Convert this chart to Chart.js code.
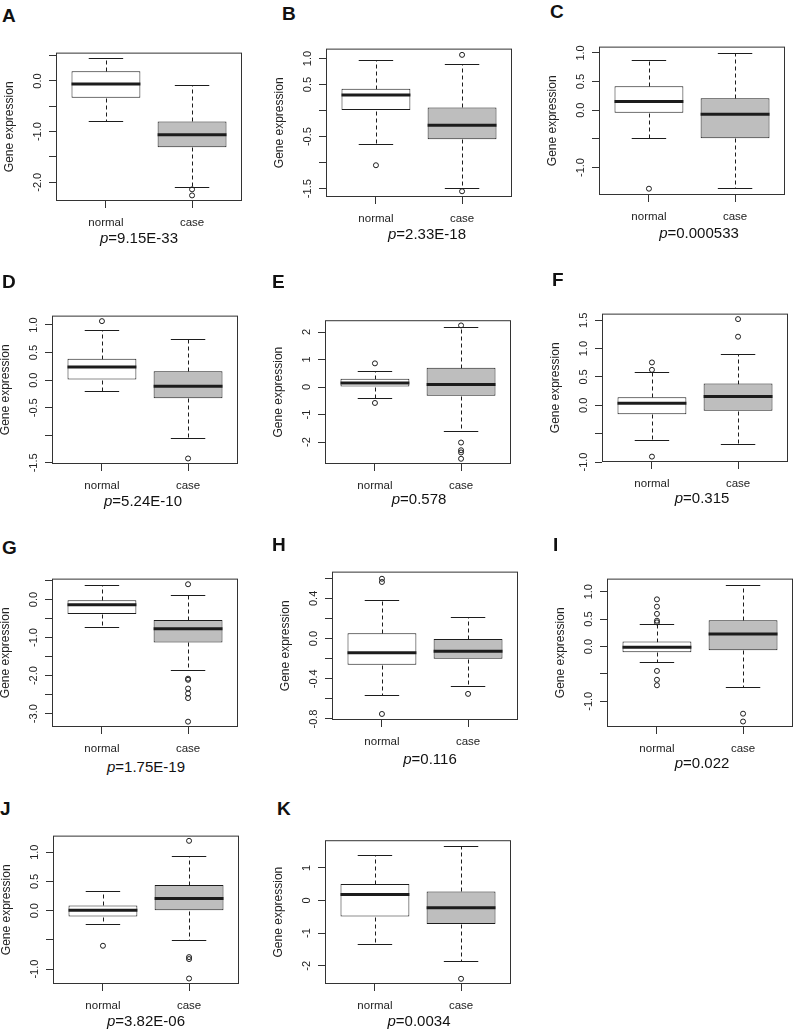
<!DOCTYPE html>
<html>
<head>
<meta charset="utf-8">
<script src="https://cdn.jsdelivr.net/npm/chart.js@4.4.0/dist/chart.umd.min.js"></script>
<style>
  html, body { margin: 0; padding: 0; background: #fff; }
  #page { position: relative; width: 795px; height: 1029px; overflow: hidden; font-family: "Liberation Sans", Arial, sans-serif; color: #111; }
  .panel { position: absolute; }
  .letter { position: absolute; font-weight: bold; font-size: 19px; line-height: 1; }
  .pval { position: absolute; font-size: 15px; line-height: 1; transform: translate(-50%, -50%); white-space: nowrap; }
</style>
</head>
<body>
<div id="page"></div>
<script>
const groups = ["normal", "case"];
const panelLetters = ["A", "B", "C", "D", "E", "F", "G", "H", "I", "J", "K"];
const pValues = ["9.15E-33", "2.33E-18", "0.000533", "5.24E-10", "0.578", "0.315",
  "1.75E-19", "0.116", "0.022", "3.82E-06", "0.0034"];

// [lower whisker, Q1, median, Q3, upper whisker]
const normalStats = [
  [-0.79, -0.33, -0.06, 0.19, 0.45],
  [-0.65, 0.0, 0.30, 0.42, 0.98],
  [-0.49, -0.045, 0.15, 0.42, 0.87],
  [-0.20, 0.01, 0.24, 0.39, 0.91],
  [-0.40, 0.0, 0.15, 0.30, 0.58],
  [-0.62, -0.16, 0.034, 0.143, 0.58],
  [-0.71, -0.38, -0.14, -0.017, 0.39],
  [-0.56, -0.26, -0.14, 0.054, 0.38],
  [-0.28, -0.107, -0.012, 0.09, 0.405],
  [-0.228, -0.1, 0.006, 0.089, 0.344],
  [-1.32, -0.49, 0.183, 0.51, 1.40]
];
const caseStats = [
  [-2.10, -1.31, -1.06, -0.80, -0.08],
  [-1.48, -0.55, -0.28, 0.06, 0.90],
  [-1.36, -0.49, -0.07, 0.21, 1.0],
  [-1.05, -0.33, -0.11, 0.16, 0.75],
  [-1.59, -0.32, 0.09, 0.70, 2.17],
  [-0.68, -0.097, 0.155, 0.384, 0.905],
  [-1.86, -1.13, -0.77, -0.54, 0.12],
  [-0.47, -0.20, -0.125, 0.0, 0.214],
  [-0.744, -0.07, 0.226, 0.48, 1.13],
  [-0.506, 0.0, 0.206, 0.44, 0.94],
  [-1.85, -0.72, -0.22, 0.28, 1.68]
];
const normalOutliers = [
  [], [-1.05], [-1.37], [1.07], [0.86, -0.58], [0.756, 0.625, -0.905],
  [], [0.595, 0.563, -0.75], [0.86, 0.726, 0.595, 0.47, 0.44, -0.446, -0.607, -0.708],
  [-0.6], []
];
const caseOutliers = [
  [-2.14, -2.26], [1.07, -1.55], [], [-1.42], [2.24, -2.02, -2.30, -2.38, -2.61],
  [1.52, 1.21], [0.40, -2.08, -2.11, -2.34, -2.47, -2.59, -3.21], [-0.55],
  [-1.226, -1.369], [1.194, -0.794, -0.828, -1.16], [-2.40]
];
const yLimits = [
  [-2.37, 0.56], [-1.66, 1.19], [-1.48, 1.11], [-1.52, 1.17], [-2.8, 2.43], [-1.0, 1.617],
  [-3.35, 0.548], [-0.81, 0.666], [-1.469, 1.238], [-1.254, 1.283], [-2.56, 1.85]
];
const yTicks = [
  [-2, -1.5, -1, -0.5, 0, 0.5],
  [-1.5, -1, -0.5, 0, 0.5, 1],
  [-1, -0.5, 0, 0.5, 1],
  [-1.5, -1, -0.5, 0, 0.5, 1],
  [-2, -1, 0, 1, 2],
  [-1, -0.5, 0, 0.5, 1, 1.5],
  [-3, -2.5, -2, -1.5, -1, -0.5, 0, 0.5],
  [-0.8, -0.6, -0.4, -0.2, 0, 0.2, 0.4, 0.6],
  [-1, -0.5, 0, 0.5, 1],
  [-1, -0.5, 0, 0.5, 1],
  [-2, -1, 0, 1]
];
const yTickLabels = [
  ["-2.0", "", "-1.0", "", "0.0", ""],
  ["-1.5", "", "-0.5", "", "0.5", "1.0"],
  ["-1.0", "", "0.0", "0.5", "1.0"],
  ["-1.5", "", "-0.5", "0.0", "0.5", "1.0"],
  ["-2", "-1", "0", "1", "2"],
  ["-1.0", "", "0.0", "0.5", "1.0", "1.5"],
  ["-3.0", "", "-2.0", "", "-1.0", "", "0.0", ""],
  ["-0.8", "", "-0.4", "", "0.0", "", "0.4", ""],
  ["-1.0", "", "0.0", "0.5", "1.0"],
  ["-1.0", "", "0.0", "0.5", "1.0"],
  ["-2", "-1", "0", "1"]
];

// layout: plot box top-left, p-value centre, letter corner
const boxPos = [[56, 48], [326, 44], [599, 42], [52, 311], [325, 311], [602, 309],
  [52, 574], [332, 567], [607, 574], [53, 831], [325, 831]];
const pPos = [[139, 237], [427, 233], [699, 232], [143, 500], [419, 498], [702, 497],
  [146, 766], [430, 758], [702, 762], [146, 1020], [419, 1020]];
const letterPos = [[2, 6], [282, 4], [550, 2], [2, 272], [272, 272], [552, 270],
  [2, 538], [272, 535], [553, 535], [0, 799], [277, 799]];

const BOX_W = 187, BOX_H = 153, AXIS_W = 54, AXIS_H = 30, PAD = 4;
const FONT = "'Liberation Sans', Arial, sans-serif";
const ink = "#1c1c1c";
const fills = ["#ffffff", "#bebebe"];

const page = document.getElementById("page");
const measure = document.createElement("canvas").getContext("2d");
measure.font = "11px " + FONT;

function makeBoxPlugin(stats) {
  const seg = (ctx, x1, y1, x2, y2) => {
    ctx.beginPath();
    ctx.moveTo(x1, y1);
    ctx.lineTo(x2, y2);
    ctx.stroke();
  };
  return {
    id: "boxWhiskers",
    beforeDatasetsDraw(chart) {
      const { ctx, scales: { x, y } } = chart;
      ctx.save();
      ctx.strokeStyle = ink;
      ctx.lineWidth = 1;
      stats.forEach((s, i) => {
        const mid = Math.round(x.getPixelForValue(i + 1)) + 0.5;
        const capL = x.getPixelForValue(i + 0.8), capR = x.getPixelForValue(i + 1.2);
        const [lo, q1, , q3, hi] = s.map((v) => Math.round(y.getPixelForValue(v)) + 0.5);
        ctx.setLineDash([4, 3]);
        seg(ctx, mid, q3, mid, hi);
        seg(ctx, mid, q1, mid, lo);
        ctx.setLineDash([]);
        seg(ctx, capL, hi, capR, hi);
        seg(ctx, capL, lo, capR, lo);
      });
      ctx.restore();
    },
    afterDatasetsDraw(chart) {
      const { ctx, chartArea: a, scales: { x, y } } = chart;
      ctx.save();
      ctx.strokeStyle = ink;
      ctx.lineWidth = 3;
      stats.forEach((s, i) => {
        const med = y.getPixelForValue(s[2]);
        seg(ctx, x.getPixelForValue(i + 0.6), med, x.getPixelForValue(i + 1.4), med);
      });
      // plot frame
      ctx.lineWidth = 1;
      ctx.strokeStyle = "#333";
      ctx.strokeRect(a.left + 0.5, a.top + 0.5, a.right - a.left - 1, a.bottom - a.top - 1);
      ctx.restore();
    }
  };
}

panelLetters.forEach((letter, p) => {
  const [bx, by] = boxPos[p];
  const canvas = document.createElement("canvas");
  canvas.className = "panel";
  canvas.width = AXIS_W + BOX_W + PAD;
  canvas.height = PAD + BOX_H + AXIS_H;
  canvas.style.left = (bx - AXIS_W) + "px";
  canvas.style.top = (by - PAD) + "px";
  page.appendChild(canvas);

  const widest = Math.max(...yTickLabels[p].map((t) => measure.measureText(t).width));
  const stats = [normalStats[p], caseStats[p]];
  const outliers = normalOutliers[p].map((v) => ({ x: 1, y: v }))
    .concat(caseOutliers[p].map((v) => ({ x: 2, y: v })));

  new Chart(canvas, {
    type: "bar",
    data: {
      datasets: [
        {
          type: "bar",
          data: stats.map((s, i) => ({ x: i + 1, y: [s[1], s[3]] })),
          backgroundColor: fills,
          borderColor: ink,
          borderWidth: 1,
          borderSkipped: false,
          barPercentage: 1,
          categoryPercentage: 0.8
        },
        {
          type: "scatter",
          data: outliers,
          pointStyle: "circle",
          pointRadius: 2.5,
          borderWidth: 1,
          borderColor: ink,
          backgroundColor: "rgba(0,0,0,0)"
        }
      ]
    },
    options: {
      responsive: false,
      animation: false,
      devicePixelRatio: 1,
      layout: { padding: { top: PAD, right: PAD, left: 0, bottom: 0 } },
      plugins: { legend: { display: false }, tooltip: { enabled: false } },
      scales: {
        x: {
          type: "linear",
          min: 0.42,
          max: 2.58,
          offset: false,
          border: { display: false },
          grid: { drawOnChartArea: false, drawTicks: true, tickLength: 7, color: "#333", offset: false },
          afterBuildTicks: (scale) => { scale.ticks = [{ value: 1 }, { value: 2 }]; },
          afterFit: (scale) => { scale.height = AXIS_H; },
          ticks: {
            autoSkip: false,
            padding: 8,
            color: "#222",
            font: { family: FONT, size: 11.5 },
            callback: (v, i) => groups[i]
          }
        },
        y: {
          type: "linear",
          min: yLimits[p][0],
          max: yLimits[p][1],
          border: { display: false },
          grid: { drawOnChartArea: false, drawTicks: true, tickLength: 7, color: "#333" },
          afterBuildTicks: (scale) => { scale.ticks = yTicks[p].map((v) => ({ value: v })); },
          afterFit: (scale) => { scale.width = AXIS_W; },
          title: {
            display: true,
            text: "Gene expression",
            color: "#222",
            padding: 0,
            font: { family: FONT, size: 12 }
          },
          ticks: {
            autoSkip: false,
            minRotation: 90,
            maxRotation: 90,
            crossAlign: "center",
            padding: Math.max(0, 18.5 - 7 - widest / 2),
            color: "#222",
            font: { family: FONT, size: 11 },
            callback: (v, i) => yTickLabels[p][i]
          }
        }
      }
    },
    plugins: [makeBoxPlugin(stats)]
  });

  const lab = document.createElement("div");
  lab.className = "letter";
  lab.textContent = letter;
  lab.style.left = letterPos[p][0] + "px";
  lab.style.top = letterPos[p][1] + "px";
  page.appendChild(lab);

  const pv = document.createElement("div");
  pv.className = "pval";
  pv.innerHTML = "<i>p</i>=" + pValues[p];
  pv.style.left = pPos[p][0] + "px";
  pv.style.top = pPos[p][1] + "px";
  page.appendChild(pv);
});
</script>
</body>
</html>
